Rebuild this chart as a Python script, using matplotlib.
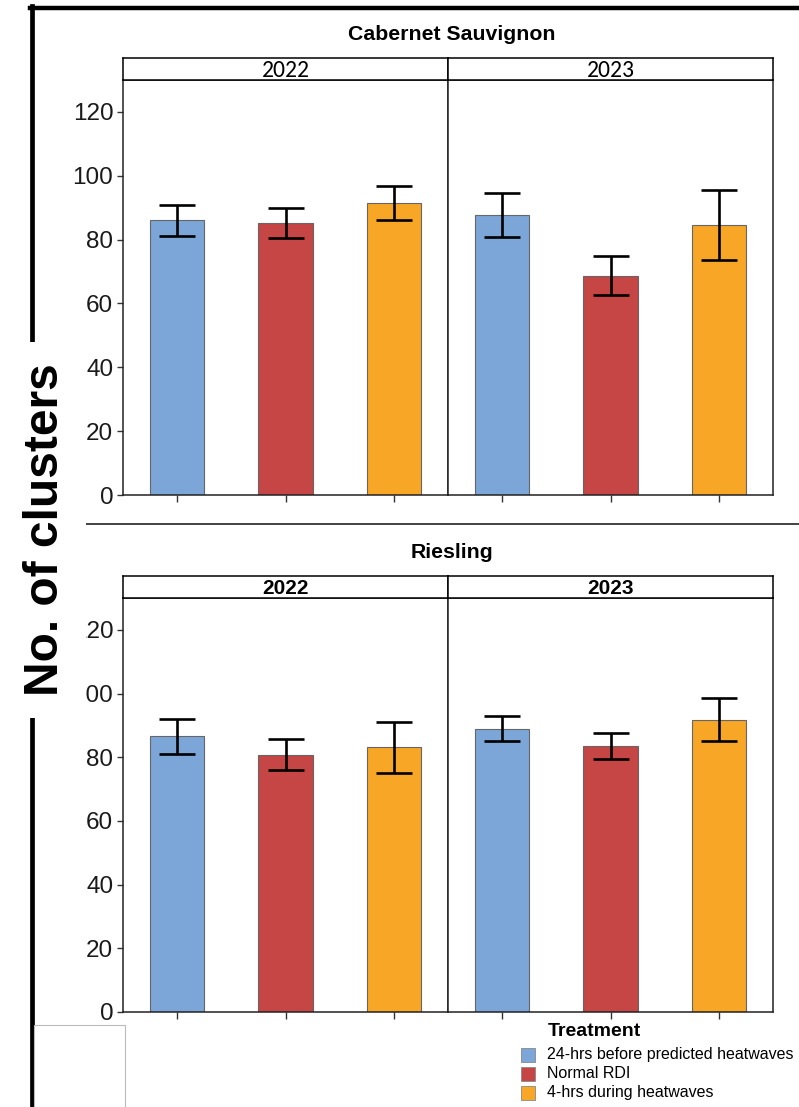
import numpy as np
import matplotlib
matplotlib.use('Agg')
import matplotlib.pyplot as plt
from matplotlib.patches import Rectangle
from matplotlib.lines import Line2D

# Data: mean number of clusters and error (+/-) per treatment
years = ['2022', '2023']
treatments = ['24-hrs before predicted heatwaves', 'Normal RDI', '4-hrs during heatwaves']
colors = ['#7CA6D8', '#C64545', '#F7A626']

cab_mean = {'2022': [86.0, 85.2, 91.4], '2023': [87.8, 68.7, 84.5]}
cab_err = {'2022': [5.0, 4.7, 5.4], '2023': [6.9, 6.2, 11.0]}
ries_mean = {'2022': [86.6, 80.8, 83.1], '2023': [89.0, 83.6, 91.8]}
ries_err = {'2022': [5.5, 4.8, 7.9], '2023': [4.0, 4.1, 6.7]}

yticks = [0, 20, 40, 60, 80, 100, 120]

SANS = ['Liberation Sans', 'DejaVu Sans']
plt.rcParams['font.family'] = SANS

W, H = 799, 1107
fig = plt.figure(figsize=(W / 100, H / 100), dpi=100)


def fx(px):
    return px / W


def fy(py):
    return 1 - py / H


def panel_row(top, bottom, strip_h, means, errs, title, title_y, strip_bold):
    x = np.arange(1, len(treatments) + 1)
    for i, yr in enumerate(years):
        left = 123 + i * 325
        ax = fig.add_axes([fx(left), fy(bottom), 325 / W, (bottom - top) / H])
        ax.bar(x, means[yr], width=0.5, color=colors, edgecolor='#666666', linewidth=0.8, zorder=2)
        ax.errorbar(x, means[yr], yerr=errs[yr], fmt='none', ecolor='black',
                    elinewidth=1.9, capsize=13, capthick=1.9, zorder=3)
        ax.set_xlim(0.5, 3.5)
        ax.set_ylim(0, 130)
        ax.set_xticks(x)
        ax.set_xticklabels([])
        ax.tick_params(axis='x', length=5, width=1, color='#333333')
        if i == 0:
            ax.set_yticks(yticks)
            ax.tick_params(axis='y', length=4, width=1, labelsize=17.5, pad=3,
                           color='#333333', labelcolor='#1a1a1a')
        else:
            ax.set_yticks([])
        for s in ax.spines.values():
            s.set_linewidth(1.1)
            s.set_color('#222222')
        # facet strip
        st = fig.add_axes([fx(left), fy(top), 325 / W, strip_h / H])
        st.set_xticks([])
        st.set_yticks([])
        for s in st.spines.values():
            s.set_linewidth(1.1)
        if strip_bold:
            st.text(0.5, 0.42, yr, ha='center', va='center', fontsize=15,
                    fontweight='bold')
        else:
            st.text(0.5, 0.42, yr, ha='center', va='center', fontsize=17,
                    family=['Carlito', 'Open Sans', 'DejaVu Sans'])
    fig.text(fx(452), fy(title_y), title, ha='center', va='center', fontsize=15.3,
             fontweight='bold')


panel_row(80, 495, 22, cab_mean, cab_err, 'Cabernet Sauvignon', 34, False)
panel_row(598, 1012, 22, ries_mean, ries_err, 'Riesling', 553, True)

# frame lines around the composite
fig.add_artist(Line2D([fx(30), fx(799)], [fy(7.5), fy(7.5)], color='black', lw=3.2))
fig.add_artist(Line2D([fx(32), fx(32)], [fy(6), fy(1107)], color='black', lw=3.4))
fig.add_artist(Line2D([fx(84), fx(799)], [fy(524), fy(524)], color='#222222', lw=1.2))

# blank box behind the shared y label
fig.add_artist(Rectangle((fx(20), fy(718)), 66 / W, 376 / H, facecolor='white',
                         edgecolor='none', zorder=5))
fig.text(fx(46), fy(530), 'No. of clusters', rotation=90, ha='center', va='center',
         fontsize=34.5, fontweight='bold', zorder=6)

# empty box in the lower left corner
fig.add_artist(Rectangle((fx(34), fy(1112)), 91 / W, 87 / H, facecolor='white',
                         edgecolor='#bbbbbb', lw=0.8, zorder=5))

# legend
fig.text(fx(548), fy(1032), 'Treatment', ha='left', va='center', fontsize=14,
         fontweight='bold')
for k, (lab, c) in enumerate(zip(treatments, colors)):
    yc = 1055 + k * 19
    fig.add_artist(Rectangle((fx(521), fy(yc + 7)), 14 / W, 14 / H, facecolor=c,
                             edgecolor='#888888', lw=0.6))
    fig.text(fx(547), fy(yc), lab, ha='left', va='center', fontsize=11.5)

fig.savefig('out.png', dpi=100)
